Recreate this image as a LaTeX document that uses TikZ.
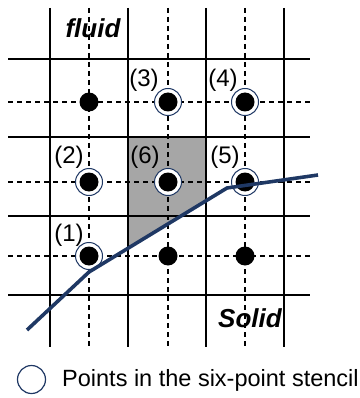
\documentclass[tikz,border=0pt]{standalone}
\usepackage{fontspec}
\setmainfont{Liberation Sans}
\usepackage{xcolor}
\usepackage{tikz}
\usetikzlibrary{shapes}

\definecolor{navy}{RGB}{31,56,100}

\begin{document}
\begin{tikzpicture}[x=1pt, y=-1pt,
  solidline/.style={black, line width=1.4pt},
  halfline/.style={black, line width=1.2pt, dash pattern=on 5pt off 4pt},
  dot/.style={circle, fill=black, inner sep=0pt, minimum size=19pt},
  ring/.style={circle, draw=navy, line width=1pt, fill=white, inner sep=0pt, minimum size=27pt},
  lbl/.style={font=\fontsize{24}{24}\selectfont, anchor=base, inner sep=0pt},
  region/.style={font=\fontsize{26}{26}\selectfont\bfseries\itshape, anchor=base, inner sep=0pt},
  boundary/.style={navy, line width=3.6pt, line join=round}]

\useasboundingbox (0,0) rectangle (359,398);

% cut cell
\fill[black!35] (128,137) -- (206,137) -- (206,200.8) -- (128,248.3) -- cycle;

% cell faces
\draw[solidline] (50,8) -- (50,347);
\draw[solidline] (128,8) -- (128,347);
\draw[solidline] (206,8) -- (206,347);
\draw[solidline] (284,8) -- (284,347);
\draw[solidline] (8,59) -- (310,59);
\draw[solidline] (8,137) -- (310,137);
\draw[solidline] (8,216) -- (310,216);
\draw[solidline] (8,295) -- (310,295);

% cell centre lines
\draw[halfline] (89,8) -- (89,347);
\draw[halfline] (168,8) -- (168,347);
\draw[halfline] (245,8) -- (245,347);
\draw[halfline] (8,102) -- (310,102);
\draw[halfline] (8,182) -- (310,182);
\draw[halfline] (8,256) -- (310,256);

% stencil points
\node[ring] (s1) at (89,256) {};
\node[ring] (s2) at (89,182) {};
\node[ring] (s3) at (168,102) {};
\node[ring] (s4) at (245,102) {};
\node[ring] (s5) at (245,182) {};
\node[ring] (s6) at (168,182) {};

\node[dot] (c1) at (s1) {};
\node[dot] (c2) at (s2) {};
\node[dot] (c3) at (s3) {};
\node[dot] (c4) at (s4) {};
\node[dot] (c5) at (s5) {};
\node[dot] (c6) at (s6) {};

% other cell centres
\node[dot] (c7) at (89,102) {};
\node[dot] (c8) at (168,256) {};
\node[dot] (c9) at (245,256) {};

\node[lbl] (l1) at (69,241) {(1)};
\node[lbl] (l2) at (69,164) {(2)};
\node[lbl] (l3) at (144,87) {(3)};
\node[lbl] (l4) at (223,87) {(4)};
\node[lbl] (l5) at (225,163) {(5)};
\node[lbl] (l6) at (145,163) {(6)};

\node[region] (fluid) at (93,38) {fluid};
\node[region] (solid) at (250,327) {Solid};

% immersed boundary
\draw[boundary] (27,330) -- (89,272) -- (227,188) -- (318,175);

% legend
\node[ring, minimum size=28pt, line width=1.2pt] (key) at (31.5,379.5) {};
\node[lbl, anchor=base west, font=\fontsize{23.5}{23.5}\selectfont] (keytext) at (62,386) {Points in the six-point stencil};

\end{tikzpicture}
\end{document}
